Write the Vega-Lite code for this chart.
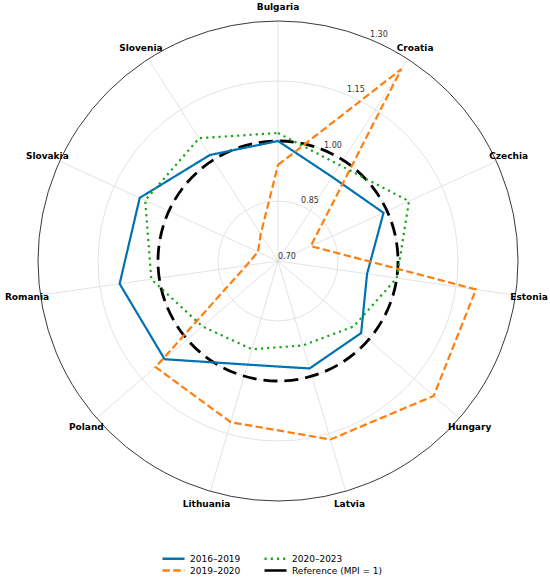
{
  "$schema": "https://vega.github.io/schema/vega-lite/v6.json",
  "description": "MPI by country and period, radar chart",
  "autosize": {"type": "none"},
  "width": 480,
  "height": 480,
  "padding": {"left": 38, "top": 21, "right": 32, "bottom": 78},
  "background": "white",
  "config": {"view": {"stroke": null}, "font": "DejaVu Sans"},
  "datasets": {
    "countries": [
      {"country": "Bulgaria"}, {"country": "Croatia"}, {"country": "Czechia"},
      {"country": "Estonia"}, {"country": "Hungary"}, {"country": "Latvia"},
      {"country": "Lithuania"}, {"country": "Poland"}, {"country": "Romania"},
      {"country": "Slovakia"}, {"country": "Slovenia"}
    ],
    "mpi": [
      {"country": "Bulgaria", "period": "2016–2019", "mpi": 1.0},
      {"country": "Croatia", "period": "2016–2019", "mpi": 0.95},
      {"country": "Czechia", "period": "2016–2019", "mpi": 0.99},
      {"country": "Estonia", "period": "2016–2019", "mpi": 0.925},
      {"country": "Hungary", "period": "2016–2019", "mpi": 0.975},
      {"country": "Latvia", "period": "2016–2019", "mpi": 0.98},
      {"country": "Lithuania", "period": "2016–2019", "mpi": 0.97},
      {"country": "Poland", "period": "2016–2019", "mpi": 1.075},
      {"country": "Romania", "period": "2016–2019", "mpi": 1.1},
      {"country": "Slovakia", "period": "2016–2019", "mpi": 1.08},
      {"country": "Slovenia", "period": "2016–2019", "mpi": 1.015},
      {"country": "Bulgaria", "period": "2019–2020", "mpi": 0.94},
      {"country": "Croatia", "period": "2019–2020", "mpi": 1.27},
      {"country": "Czechia", "period": "2019–2020", "mpi": 0.79},
      {"country": "Estonia", "period": "2019–2020", "mpi": 1.2},
      {"country": "Hungary", "period": "2019–2020", "mpi": 1.215},
      {"country": "Latvia", "period": "2019–2020", "mpi": 1.165},
      {"country": "Lithuania", "period": "2019–2020", "mpi": 1.12},
      {"country": "Poland", "period": "2019–2020", "mpi": 1.105},
      {"country": "Romania", "period": "2019–2020", "mpi": 0.78},
      {"country": "Slovakia", "period": "2019–2020", "mpi": 0.755},
      {"country": "Slovenia", "period": "2019–2020", "mpi": 0.78},
      {"country": "Bulgaria", "period": "2020–2023", "mpi": 1.02},
      {"country": "Croatia", "period": "2020–2023", "mpi": 0.985},
      {"country": "Czechia", "period": "2020–2023", "mpi": 1.06},
      {"country": "Estonia", "period": "2020–2023", "mpi": 1.0},
      {"country": "Hungary", "period": "2020–2023", "mpi": 0.95},
      {"country": "Latvia", "period": "2020–2023", "mpi": 0.92},
      {"country": "Lithuania", "period": "2020–2023", "mpi": 0.93},
      {"country": "Poland", "period": "2020–2023", "mpi": 0.95},
      {"country": "Romania", "period": "2020–2023", "mpi": 1.02},
      {"country": "Slovakia", "period": "2020–2023", "mpi": 1.065},
      {"country": "Slovenia", "period": "2020–2023", "mpi": 1.065}
    ],
    "rings": [{"v": 0.85}, {"v": 1.0}, {"v": 1.15}],
    "outer": [{"v": 1.3}],
    "reference": [{"v": 1.0}],
    "ticks": [{"v": 0.7}, {"v": 0.85}, {"v": 1.0}, {"v": 1.15}, {"v": 1.3}]
  },
  "layer": [
    {
      "data": {"name": "rings"},
      "transform": [{"calculate": "pow(datum.v - 0.7, 2)", "as": "s"}],
      "mark": {"type": "point", "shape": "circle", "filled": false, "opacity": 1, "color": "#dcdcdc", "strokeWidth": 0.8},
      "encoding": {
        "x": {"datum": 0, "type": "quantitative", "scale": {"domain": [-0.6, 0.6]}, "axis": null},
        "y": {"datum": 0, "type": "quantitative", "scale": {"domain": [-0.6, 0.6]}, "axis": null},
        "size": {"field": "s", "type": "quantitative", "scale": {"type": "linear", "domain": [0, 0.36], "range": [0, 230400], "zero": true}, "legend": null}
      }
    },
    {
      "data": {"name": "countries"},
      "transform": [
        {"window": [{"op": "row_number", "as": "idx"}]},
        {"calculate": "(datum.idx - 1) * 2 * PI / 11", "as": "a"},
        {"calculate": "0.6 * sin(datum.a)", "as": "sx"},
        {"calculate": "0.6 * cos(datum.a)", "as": "sy"},
        {"calculate": "0", "as": "o"}
      ],
      "mark": {"type": "rule", "color": "#dcdcdc", "strokeWidth": 0.8},
      "encoding": {
        "x": {"field": "sx", "type": "quantitative", "scale": {"domain": [-0.6, 0.6]}, "axis": null},
        "y": {"field": "sy", "type": "quantitative", "scale": {"domain": [-0.6, 0.6]}, "axis": null},
        "x2": {"field": "o"},
        "y2": {"field": "o"}
      }
    },
    {
      "data": {"name": "outer"},
      "transform": [{"calculate": "pow(datum.v - 0.7, 2)", "as": "s"}],
      "mark": {"type": "point", "shape": "circle", "filled": false, "opacity": 1, "color": "#222222", "strokeWidth": 0.9},
      "encoding": {
        "x": {"datum": 0, "type": "quantitative", "scale": {"domain": [-0.6, 0.6]}, "axis": null},
        "y": {"datum": 0, "type": "quantitative", "scale": {"domain": [-0.6, 0.6]}, "axis": null},
        "size": {"field": "s", "type": "quantitative", "scale": {"type": "linear", "domain": [0, 0.36], "range": [0, 230400], "zero": true}, "legend": null}
      }
    },
    {
      "data": {"name": "reference"},
      "transform": [{"calculate": "pow(datum.v - 0.7, 2)", "as": "s"}],
      "mark": {"type": "point", "shape": "circle", "filled": false, "opacity": 1, "color": "#000000", "strokeWidth": 2.8, "strokeDash": [14, 7]},
      "encoding": {
        "x": {"datum": 0, "type": "quantitative", "scale": {"domain": [-0.6, 0.6]}, "axis": null},
        "y": {"datum": 0, "type": "quantitative", "scale": {"domain": [-0.6, 0.6]}, "axis": null},
        "size": {"field": "s", "type": "quantitative", "scale": {"type": "linear", "domain": [0, 0.36], "range": [0, 230400], "zero": true}, "legend": null}
      }
    },
    {
      "data": {"name": "mpi"},
      "transform": [
        {"window": [{"op": "dense_rank", "as": "idx"}], "sort": [{"field": "country"}]},
        {"calculate": "(datum.idx - 1) * 2 * PI / 11", "as": "a"},
        {"calculate": "(datum.mpi - 0.7) * sin(datum.a)", "as": "px"},
        {"calculate": "(datum.mpi - 0.7) * cos(datum.a)", "as": "py"}
      ],
      "mark": {"type": "line", "interpolate": "linear-closed", "strokeWidth": 2.2},
      "encoding": {
        "x": {"field": "px", "type": "quantitative", "scale": {"domain": [-0.6, 0.6]}, "axis": null},
        "y": {"field": "py", "type": "quantitative", "scale": {"domain": [-0.6, 0.6]}, "axis": null},
        "order": {"field": "idx", "type": "quantitative"},
        "color": {
          "field": "period",
          "type": "nominal",
          "scale": {
            "domain": ["2016–2019", "2019–2020", "2020–2023", "Reference (MPI = 1)"],
            "range": ["#0072b2", "#ff7f0e", "#1aa51a", "#000000"]
          },
          "legend": {
            "title": null, "orient": "none", "legendX": 129, "legendY": 531,
            "columns": 2, "columnPadding": 18, "rowPadding": 0, "padding": 0,
            "symbolType": "M-2.2,0H2.2", "symbolSize": 100, "symbolStrokeWidth": 2.4,
            "labelFont": "DejaVu Sans", "labelFontSize": 9, "labelColor": "#000000", "labelOffset": 10
          }
        },
        "strokeDash": {
          "field": "period",
          "type": "nominal",
          "scale": {
            "domain": ["2016–2019", "2019–2020", "2020–2023", "Reference (MPI = 1)"],
            "range": [[1, 0], [7.4, 3.4], [2.2, 4], [1, 0]]
          },
          "legend": {
            "title": null, "orient": "none", "legendX": 129, "legendY": 531,
            "columns": 2, "columnPadding": 18, "rowPadding": 0, "padding": 0,
            "symbolType": "M-2.2,0H2.2", "symbolSize": 100, "symbolStrokeWidth": 2.4,
            "labelFont": "DejaVu Sans", "labelFontSize": 9, "labelColor": "#000000", "labelOffset": 10
          }
        }
      }
    },
    {
      "data": {"name": "countries"},
      "transform": [
        {"window": [{"op": "row_number", "as": "idx"}]},
        {"calculate": "(datum.idx - 1) * 2 * PI / 11", "as": "a"},
        {"calculate": "0.634 * sin(datum.a)", "as": "lx"},
        {"calculate": "0.634 * cos(datum.a)", "as": "ly"}
      ],
      "mark": {"type": "text", "font": "DejaVu Sans", "fontWeight": "bold", "fontSize": 9, "color": "#000000", "align": "center", "baseline": "middle"},
      "encoding": {
        "x": {"field": "lx", "type": "quantitative", "scale": {"domain": [-0.6, 0.6]}, "axis": null},
        "y": {"field": "ly", "type": "quantitative", "scale": {"domain": [-0.6, 0.6]}, "axis": null},
        "text": {"field": "country", "type": "nominal"}
      }
    },
    {
      "data": {"name": "ticks"},
      "transform": [
        {"calculate": "(datum.v - 0.7) * sin(PI / 8)", "as": "tx"},
        {"calculate": "(datum.v - 0.7) * cos(PI / 8)", "as": "ty"}
      ],
      "mark": {"type": "text", "font": "DejaVu Sans", "fontSize": 8, "color": "#333333", "align": "center", "baseline": "middle", "dx": 9, "dy": -4.5},
      "encoding": {
        "x": {"field": "tx", "type": "quantitative", "scale": {"domain": [-0.6, 0.6]}, "axis": null},
        "y": {"field": "ty", "type": "quantitative", "scale": {"domain": [-0.6, 0.6]}, "axis": null},
        "text": {"field": "v", "type": "quantitative", "format": ".2f"}
      }
    }
  ]
}
